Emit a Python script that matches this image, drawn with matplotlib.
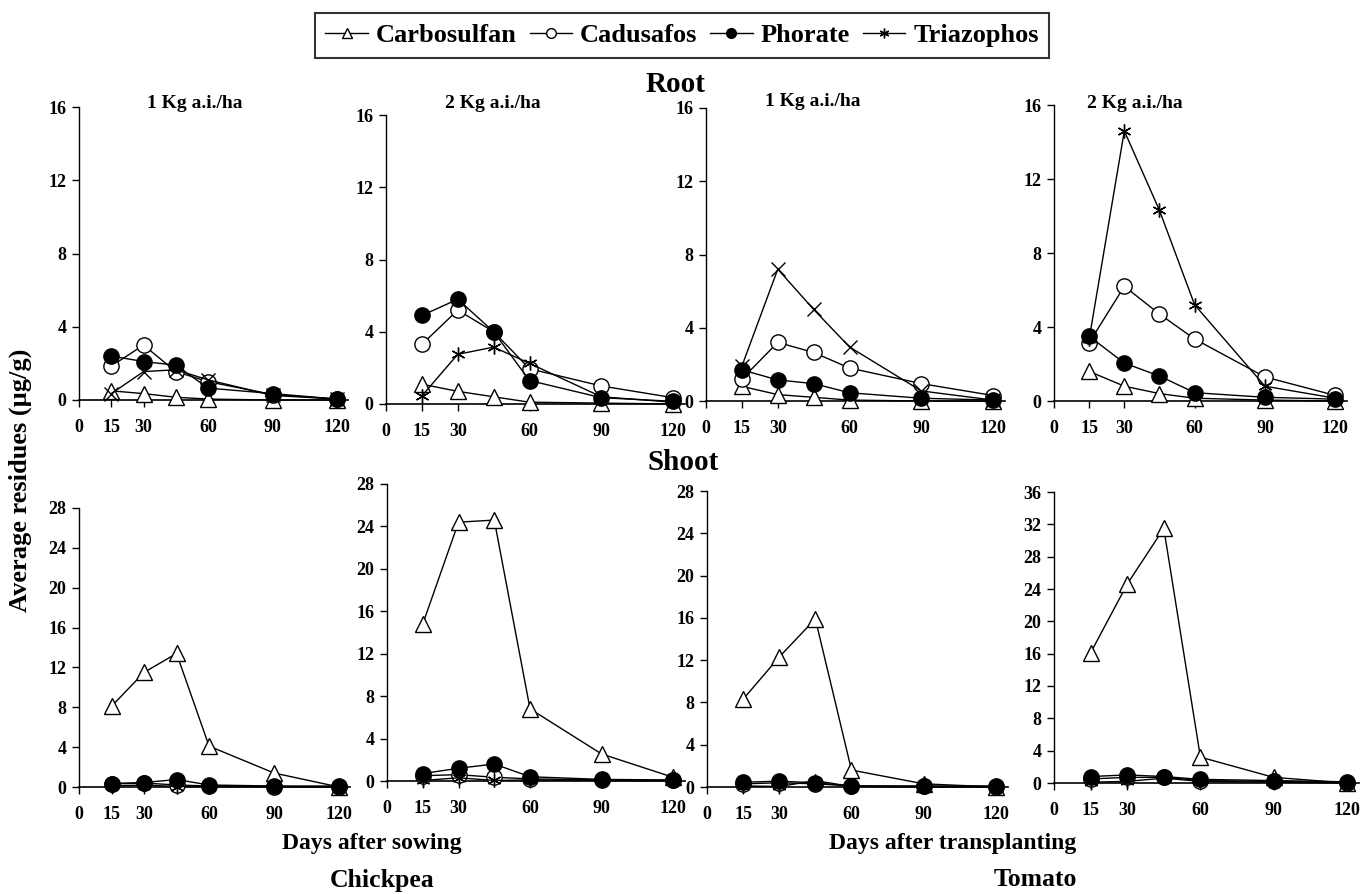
import numpy as np
import matplotlib
matplotlib.use("Agg")
import matplotlib.pyplot as plt
from matplotlib.lines import Line2D

plt.rcParams['font.family'] = ['Liberation Serif', 'DejaVu Serif']
plt.rcParams['font.weight'] = 'bold'

days = [15, 30, 45, 60, 90, 120]
pesticides = ["Carbosulfan", "Cadusafos", "Phorate", "Triazophos"]

# residues (ug/g), rows = Carbosulfan, Cadusafos, Phorate, Triazophos
cp_root_1kg = [[0.5, 0.35, 0.15, 0.05, 0.0, 0.0],
               [1.85, 3.0, 1.55, 1.0, 0.3, 0.05],
               [2.4, 2.1, 1.9, 0.65, 0.35, 0.05],
               [0.35, 1.55, 1.65, 1.1, 0.25, 0.05]]
cp_root_2kg = [[1.1, 0.7, 0.4, 0.1, 0.05, 0.0],
               [3.3, 5.2, 4.0, 1.95, 1.0, 0.35],
               [4.9, 5.8, 4.0, 1.3, 0.35, 0.15],
               [0.45, 2.75, 3.15, 2.25, 0.4, 0.1]]
tm_root_1kg = [[0.8, 0.35, 0.2, 0.05, 0.0, 0.0],
               [1.2, 3.2, 2.65, 1.8, 0.95, 0.3],
               [1.7, 1.15, 0.95, 0.45, 0.15, 0.05],
               [1.9, 7.2, 5.0, 2.95, 0.55, 0.05]]
tm_root_2kg = [[1.6, 0.8, 0.4, 0.15, 0.05, 0.0],
               [3.15, 6.2, 4.7, 3.35, 1.3, 0.3],
               [3.5, 2.05, 1.35, 0.45, 0.2, 0.1],
               [3.35, 14.6, 10.3, 5.2, 0.8, 0.15]]
cp_shoot_1kg = [[8.1, 11.5, 13.4, 4.1, 1.4, 0.0],
                [0.3, 0.4, 0.2, 0.1, 0.05, 0.0],
                [0.35, 0.45, 0.75, 0.2, 0.1, 0.1],
                [0.1, 0.2, 0.05, 0.05, 0.0, 0.0]]
cp_shoot_2kg = [[14.8, 24.4, 24.6, 6.8, 2.55, 0.35],
                [0.5, 0.6, 0.35, 0.2, 0.1, 0.05],
                [0.7, 1.2, 1.6, 0.4, 0.15, 0.1],
                [0.05, 0.3, 0.05, 0.1, 0.05, 0.0]]
tm_shoot_1kg = [[8.3, 12.3, 15.9, 1.6, 0.3, 0.0],
                [0.3, 0.4, 0.3, 0.1, 0.05, 0.0],
                [0.45, 0.55, 0.4, 0.1, 0.1, 0.1],
                [0.1, 0.05, 0.6, 0.05, 0.0, 0.0]]
tm_shoot_2kg = [[16.1, 24.6, 31.5, 3.2, 0.7, 0.0],
                [0.5, 0.7, 0.7, 0.3, 0.2, 0.05],
                [0.8, 1.0, 0.8, 0.45, 0.3, 0.15],
                [0.1, 0.2, 0.6, 0.2, 0.1, 0.0]]

xticks = [0, 15, 30, 60, 90, 120]
root_yticks = [0, 4, 8, 12, 16]
shoot_yticks = [0, 4, 8, 12, 16, 20, 24, 28]
shoot_yticks_big = [0, 4, 8, 12, 16, 20, 24, 28, 32, 36]

W, H = 1362, 894
fig = plt.figure(figsize=(W / 100, H / 100), dpi=100)

def rect(l, r, t, b):
    return [l / W, 1 - b / H, (r - l) / W, (b - t) / H]

# panel: (data, yticks, pixel rect, triazophos marker, title)
star = (6, 2, 0)
panels = [
    (cp_root_1kg, root_yticks, rect(79, 348, 107, 400), 'x', "1 Kg a.i./ha"),
    (cp_root_2kg, root_yticks, rect(386, 685, 115, 404), star, "2 Kg a.i./ha"),
    (tm_root_1kg, root_yticks, rect(706, 1005, 108, 401), 'x', "1 Kg a.i./ha"),
    (tm_root_2kg, root_yticks, rect(1054, 1347, 105, 401), star, "2 Kg a.i./ha"),
    (cp_shoot_1kg, shoot_yticks, rect(79, 350, 508, 787), star, None),
    (cp_shoot_2kg, shoot_yticks, rect(387, 685, 484, 781), star, None),
    (tm_shoot_1kg, shoot_yticks, rect(707, 1008, 491, 787), star, None),
    (tm_shoot_2kg, shoot_yticks_big, rect(1054, 1359, 492, 783), star, None),
]
title_pos = [(195, 103), (493, 103), (813, 102), (1135, 103)]

styles = [dict(marker='^', mfc='white', ms=12),
          dict(marker='o', mfc='white', ms=11),
          dict(marker='o', mfc='black', ms=11),
          dict(marker=None, mfc='black', ms=10)]

for i, (data, yt, r, tmark, title) in enumerate(panels):
    ax = fig.add_axes(r)
    for k in [3, 1, 2, 0]:
        st = dict(styles[k])
        if k == 3:
            st['marker'] = tmark
        ax.plot(days, data[k], color='black', lw=1, mec='black', mew=1,
                clip_on=False, zorder=3 + k, **st)
    ax.set_xlim(0, 125)
    ax.set_ylim(0, yt[-1])
    ax.set_xticks(xticks)
    ax.set_yticks(yt)
    ax.spines['top'].set_visible(False)
    ax.spines['right'].set_visible(False)
    ax.spines['left'].set_linewidth(1)
    ax.spines['bottom'].set_linewidth(1.2)
    ax.tick_params(axis='both', direction='out', length=5, width=1,
                   labelsize=13)
    ax.tick_params(axis='x', pad=9)
    ax.tick_params(axis='y', pad=4)
    for lab in ax.get_xticklabels() + ax.get_yticklabels():
        lab.set_fontweight('bold')
    if title:
        tx, ty = title_pos[i]
        fig.text(tx / W, 1 - ty / H, title, ha='center', va='center',
                 fontsize=14, fontweight='bold')

fig.text(675 / W, 1 - 85 / H, "Root", ha='center', va='center',
         fontsize=21, fontweight='bold')
fig.text(683 / W, 1 - 462 / H, "Shoot", ha='center', va='center',
         fontsize=21, fontweight='bold')
fig.text(20 / W, 1 - 480 / H, "Average residues (µg/g)", rotation=90,
         ha='center', va='center', fontsize=19, fontweight='bold')
fig.text(372 / W, 1 - 843 / H, "Days after sowing", ha='center', va='center',
         fontsize=17, fontweight='bold')
fig.text(953 / W, 1 - 843 / H, "Days after transplanting", ha='center',
         va='center', fontsize=17, fontweight='bold')
fig.text(382 / W, 1 - 880 / H, "Chickpea", ha='center', va='center',
         fontsize=18.5, fontweight='bold')
fig.text(1035 / W, 1 - 880 / H, "Tomato", ha='center', va='center',
         fontsize=18.5, fontweight='bold')

handles = []
for k, name in enumerate(pesticides):
    st = dict(styles[k])
    if k == 3:
        st['marker'] = star
    st['ms'] = 7
    handles.append(Line2D([0], [0], color='black', lw=1, mec='black', mew=1, **st))
leg = fig.legend(handles, pesticides, loc='upper center',
                 bbox_to_anchor=(682 / W, 1 - 13 / H), ncol=4, frameon=True,
                 fancybox=False, edgecolor='black', borderaxespad=0,
                 handlelength=1.6, handletextpad=0.3, columnspacing=0.5,
                 borderpad=0.4, prop={'weight': 'bold', 'size': 19})
leg.get_frame().set_linewidth(1.5)

fig.savefig("out.png", dpi=100)
